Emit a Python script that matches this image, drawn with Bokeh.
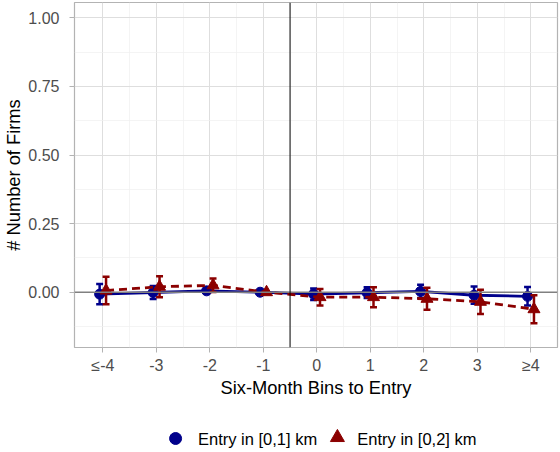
from bokeh.plotting import figure
from bokeh.models import FixedTicker, Span, Range1d, CustomJSTickFormatter
from bokeh.layouts import column
from bokeh.core.properties import value
from bokeh.embed import file_html
from bokeh.resources import INLINE

bins = [-4, -3, -2, -1, 0, 1, 2, 3, 4]
tick_labels = ["≤-4", "-3", "-2", "-1", "0", "1", "2", "3", "≥4"]

blue_est = [-0.007, -0.001, 0.005, 0.0, -0.007, -0.002, 0.003, -0.011, -0.015]
blue_lo = [-0.044, -0.025, -0.004, 0.0, -0.028, -0.021, -0.021, -0.042, -0.048]
blue_hi = [0.030, 0.023, 0.014, 0.0, 0.014, 0.018, 0.027, 0.021, 0.019]

red_est = [0.006, 0.020, 0.025, 0.0, -0.018, -0.018, -0.024, -0.035, -0.062]
red_lo = [-0.044, -0.018, 0.001, 0.0, -0.048, -0.055, -0.064, -0.079, -0.113]
red_hi = [0.056, 0.058, 0.050, 0.0, 0.012, 0.018, 0.016, 0.009, -0.011]

series_labels = ["Entry in [0,1] km", "Entry in [0,2] km"]

BLUE = "#00008B"
RED = "#8B0000"
FONT = "Liberation Sans"
dodge = 0.06
cap = 0.065

p = figure(width=560, height=407, output_backend="svg", toolbar_location=None,
           x_range=Range1d(-4.53, 4.5), y_range=Range1d(-0.2015, 1.056),
           min_border_left=72, min_border_right=3, min_border_top=2, min_border_bottom=60)
p.background_fill_color = "white"
p.border_fill_color = "white"
p.outline_line_color = "#B3B3B3"
p.outline_line_width = 1.2

p.xaxis.ticker = FixedTicker(ticks=bins, minor_ticks=[b + 0.5 for b in bins[:-1]])
p.xaxis.major_label_overrides = {b: l for b, l in zip(bins, tick_labels)}
yt = [0.0, 0.25, 0.5, 0.75, 1.0]
p.yaxis.ticker = FixedTicker(ticks=yt, minor_ticks=[-0.125, 0.125, 0.375, 0.625, 0.875])
p.yaxis.formatter = CustomJSTickFormatter(code="return tick.toFixed(2);")

for ax in (p.xaxis[0], p.yaxis[0]):
    ax.axis_line_color = None
    ax.major_tick_line_color = "#B3B3B3"
    ax.major_tick_line_width = 1
    ax.major_tick_in = 0
    ax.major_tick_out = 5
    ax.minor_tick_line_color = None
    ax.major_label_text_font = FONT
    ax.major_label_text_font_size = "16px"
    ax.major_label_text_color = "#4D4D4D"
    ax.axis_label_text_font = FONT
    ax.axis_label_text_font_size = "18.3px"
    ax.axis_label_text_font_style = "normal"
    ax.axis_label_text_color = "black"
p.xaxis.axis_label = "Six-Month Bins to Entry"
p.yaxis.axis_label = "# Number of Firms"
p.xaxis.major_label_standoff = 4
p.xaxis.axis_label_standoff = 0
p.yaxis.major_label_standoff = 10
p.yaxis.axis_label_standoff = 1

p.xgrid.grid_line_color = "#DEDEDE"
p.ygrid.grid_line_color = "#DEDEDE"
p.xgrid.grid_line_width = 1
p.ygrid.grid_line_width = 1
p.xgrid.minor_grid_line_color = "#EFEFEF"
p.ygrid.minor_grid_line_color = "#EFEFEF"
p.xgrid.minor_grid_line_width = 0.7
p.ygrid.minor_grid_line_width = 0.7

p.add_layout(Span(location=0, dimension="width", line_color="#808080", line_width=1.5))
p.add_layout(Span(location=-0.5, dimension="height", line_color="black", line_width=1))

bx = [b - dodge for b in bins]
rx = [b + dodge for b in bins]

# blue series
p.line(bx, blue_est, line_color=BLUE, line_width=2.8)
p.segment(bx, blue_lo, bx, blue_hi, line_color=BLUE, line_width=2.5)
p.segment([x - cap for x in bx], blue_lo, [x + cap for x in bx], blue_lo, line_color=BLUE, line_width=2.5)
p.segment([x - cap for x in bx], blue_hi, [x + cap for x in bx], blue_hi, line_color=BLUE, line_width=2.5)
p.scatter(bx, blue_est, marker="circle", size=10, fill_color=BLUE, line_color=BLUE)

# red series
p.line(rx, red_est, line_color=RED, line_width=2.8, line_dash="8 5")
p.segment(rx, red_lo, rx, red_hi, line_color=RED, line_width=2.5)
p.segment([x - cap for x in rx], red_lo, [x + cap for x in rx], red_lo, line_color=RED, line_width=2.5)
p.segment([x - cap for x in rx], red_hi, [x + cap for x in rx], red_hi, line_color=RED, line_width=2.5)
p.scatter(rx, red_est, marker="triangle", size=12, fill_color=RED, line_color=RED)

# legend strip (separate figure; its frame is aligned with the main frame, x in canvas pixels)
lg = figure(width=560, height=45, output_backend="svg", toolbar_location=None,
            x_range=Range1d(72, 557), y_range=Range1d(0, 45),
            min_border_left=72, min_border_right=3, min_border_top=0, min_border_bottom=0)
lg.axis.visible = False
lg.grid.visible = False
lg.outline_line_color = None
lg.background_fill_color = "white"
lg.border_fill_color = "white"
lg.scatter([173.5], [14], marker="circle", size=12, fill_color=BLUE, line_color=BLUE)
lg.scatter([336], [15], marker="triangle", size=14, fill_color=RED, line_color=RED)
lg.text([196, 356], [14, 14], text=series_labels, text_font=value(FONT),
        text_font_size="16.5px", text_color="black", text_baseline="middle", text_align="left")

layout = column(p, lg, spacing=0)
open("out.html", "w").write(file_html(layout, INLINE))
